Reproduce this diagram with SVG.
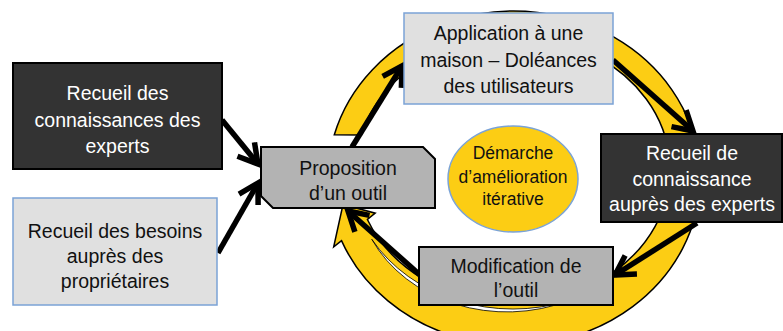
<svg xmlns="http://www.w3.org/2000/svg" width="783" height="331" viewBox="0 0 783 331">
<defs>
<style>
text{font-family:"Liberation Sans",Arial,sans-serif;font-size:19.5px;text-anchor:middle}
.dark{fill:#333333;stroke:#000;stroke-width:2}
.light{fill:#e0e0e0;stroke:#7ba3d6;stroke-width:1.5}
.gray{fill:#b3b3b3;stroke:#000;stroke-width:2}
.wt{fill:#fff}
.bt{fill:#111}
.conn{stroke:#000;stroke-width:5.5;fill:none;marker-end:url(#ah)}
</style>
<marker id="ah" viewBox="0 0 28 28" refX="23" refY="14" markerWidth="28" markerHeight="28" markerUnits="userSpaceOnUse" orient="auto">
<path d="M4,3 L23,14 L4,25" fill="none" stroke="#000" stroke-width="5.5"/>
</marker>
</defs>
<rect width="783" height="331" fill="#fff"/>
<g id="ring">
<path d="M334.3,134.8 A186,167 0 1 1 341.5,240.6 L333.7,246.9 L343,204.5 L375.2,213.2 L367.4,219.5 A157,133.5 0 1 0 361.4,134.9 Z" fill="#fccd14" stroke="#000" stroke-width="1.5"/>
<path d="M568.7,300.6 A163,139.5 0 0 1 371.8,239.3 A150,128 0 0 0 568.7,300.6 Z" fill="#fff" stroke="#000" stroke-width="0.8"/>
</g>
<g id="connectors">
<line class="conn" x1="222" y1="120" x2="258" y2="164"/>
<line class="conn" x1="218" y1="253" x2="258" y2="183"/>
<line class="conn" x1="352" y1="147" x2="402" y2="66"/>
<line class="conn" x1="613" y1="60" x2="693" y2="131"/>
<line class="conn" x1="697" y1="223" x2="615" y2="275"/>
<line class="conn" x1="420" y1="275" x2="348" y2="211"/>
</g>
<g id="node-experts">
<rect class="dark" x="13" y="63" width="209" height="106"/>
<text class="wt" x="117.5" y="100">Recueil des</text>
<text class="wt" x="117.5" y="127">connaissances des</text>
<text class="wt" x="117.5" y="153">experts</text>
</g>
<g id="node-besoins">
<rect class="light" x="13" y="198" width="204" height="107"/>
<text class="bt" x="115" y="238">Recueil des besoins</text>
<text class="bt" x="115" y="263">auprès des</text>
<text class="bt" x="115" y="288">propriétaires</text>
</g>
<g id="node-proposition">
<polygon class="gray" points="261,147 423,147 435,159 435,208 273,208 261,196"/>
<text class="bt" x="348" y="175">Proposition</text>
<text class="bt" x="348" y="200">d’un outil</text>
</g>
<g id="node-application">
<rect class="light" x="404" y="13" width="209" height="91"/>
<text class="bt" x="508.5" y="40">Application à une</text>
<text class="bt" x="508.5" y="67">maison – Doléances</text>
<text class="bt" x="508.5" y="93">des utilisateurs</text>
</g>
<g id="node-recueil-experts">
<rect class="dark" x="601" y="134" width="181" height="88"/>
<text class="wt" x="692" y="160">Recueil de</text>
<text class="wt" x="692" y="186">connaissance</text>
<text class="wt" x="692" y="211">auprès des experts</text>
</g>
<g id="node-modification">
<rect class="gray" x="419" y="247" width="194" height="58"/>
<text class="bt" x="516" y="273">Modification de</text>
<text class="bt" x="516" y="297">l’outil</text>
</g>
<g id="node-demarche">
<ellipse cx="513" cy="179" rx="65" ry="53" fill="#fccd14" stroke="#7ba3d6" stroke-width="1.5"/>
<text class="bt" x="513" y="159" style="font-size:17.5px">Démarche</text>
<text class="bt" x="513" y="183" style="font-size:17.5px">d’amélioration</text>
<text class="bt" x="513" y="205" style="font-size:17.5px">itérative</text>
</g>
</svg>
